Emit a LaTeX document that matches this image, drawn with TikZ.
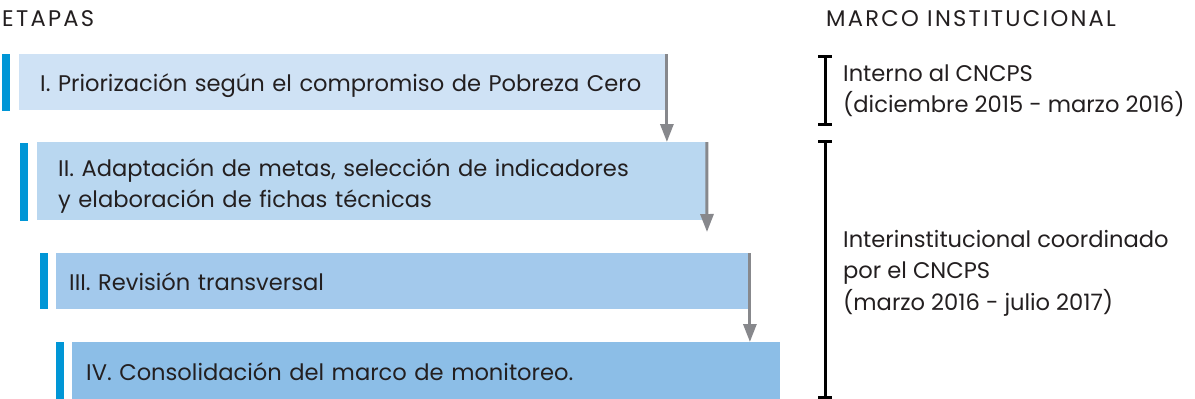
\documentclass[tikz,border=0pt]{standalone}
\usepackage{fontspec}
\setmainfont{Poppins}
\newfontfamily\capsfont[LetterSpace=10]{Poppins}
\usetikzlibrary{arrows.meta}
\definecolor{txt}{HTML}{231F20}
\definecolor{bar}{HTML}{0096D6}
\definecolor{fa}{HTML}{CFE2F5}
\definecolor{fb}{HTML}{B9D7F0}
\definecolor{fc}{HTML}{A3C9EC}
\definecolor{fd}{HTML}{8CBEE7}
\definecolor{arr}{HTML}{87888C}
\tikzset{
  stagebox/.style={rectangle, anchor=north west, inner ysep=0pt, align=left, text=txt,
    font=\fontsize{22.6}{31}\selectfont},
  onerow/.style={text height=37.5pt, text depth=18.5pt},
  flowarrow/.style={draw=arr, line width=3pt, -{Triangle[width=13pt,length=18pt]}},
  bracket/.style={draw=black, line width=3pt},
  label/.style={anchor=base west, inner sep=0pt, align=left, text=txt,
    font=\fontsize{22.6}{31.5}\selectfont},
  heading/.style={anchor=base west, inner sep=0pt, text=txt,
    font=\fontsize{22.6}{27}\capsfont},
}
\begin{document}
\begin{tikzpicture}[x=1pt,y=-1pt]
\useasboundingbox (0,0) rectangle (1195,399);
% headings
\node[heading] (h1) at (2,26) {ETAPAS};
\node[heading] (h2) at (826,26) {MARCO INSTITUCIONAL};
% bars
\fill[bar] (2,54) rectangle (10,111);
\fill[bar] (20,143) rectangle (28,221);
\fill[bar] (40,253) rectangle (48,309);
\fill[bar] (56,342) rectangle (64,399);
% boxes
\node[stagebox, onerow, fill=fa, minimum width=646pt, minimum height=56pt, inner xsep=21pt, text width=604pt] (b1) at (19,54) {I. Priorización según el compromiso de Pobreza Cero};
\node[stagebox, fill=fb, minimum width=669pt, minimum height=78pt, inner xsep=21pt, text width=627pt, text height=34pt, text depth=44pt] (b2) at (37,142) {II. Adaptación de metas, selección de indicadores\\y elaboración de fichas técnicas};
\node[stagebox, onerow, fill=fc, minimum width=692pt, minimum height=56pt, inner xsep=13pt, text width=666pt] (b3) at (56,253) {III. Revisión transversal};
\node[stagebox, onerow, fill=fd, minimum width=708pt, minimum height=57pt, inner xsep=14pt, text width=680pt] (b4) at (72,342) {IV. Consolidación del marco de monitoreo.};
% arrows
\coordinate (e2) at (707,232);
\draw[flowarrow] ([xshift=1.5pt]b1.north east) -- ([xshift=1.5pt]b1.north east |- b2.north);
\draw[flowarrow] ([xshift=0.5pt]b2.north east) -- (e2);
\draw[flowarrow] ([xshift=1.5pt]b3.north east) -- ([xshift=1.5pt]b3.north east |- b4.north);
% brackets
\coordinate (k1t) at (825,56);
\coordinate (k1b) at (825,124);
\coordinate (k2t) at (825,141);
\coordinate (k2b) at (825,397);
\draw[bracket] (k1t) -- (k1b);
\draw[bracket] ([xshift=-7pt]k1t) -- ([xshift=7pt]k1t);
\draw[bracket] ([xshift=-7pt]k1b) -- ([xshift=7pt]k1b);
\draw[bracket] (k2t) -- (k2b);
\draw[bracket] ([xshift=-7pt]k2t) -- ([xshift=7pt]k2t);
\draw[bracket] ([xshift=-7pt]k2b) -- ([xshift=7pt]k2b);
% labels (base anchor = last line)
\node[label] (m1) at (843,112.5) {Interno al CNCPS\\(diciembre 2015 - marzo 2016)};
\node[label] (m2) at (843,310) {Interinstitucional coordinado\\por el CNCPS\\(marzo 2016 - julio 2017)};
\end{tikzpicture}
\end{document}
